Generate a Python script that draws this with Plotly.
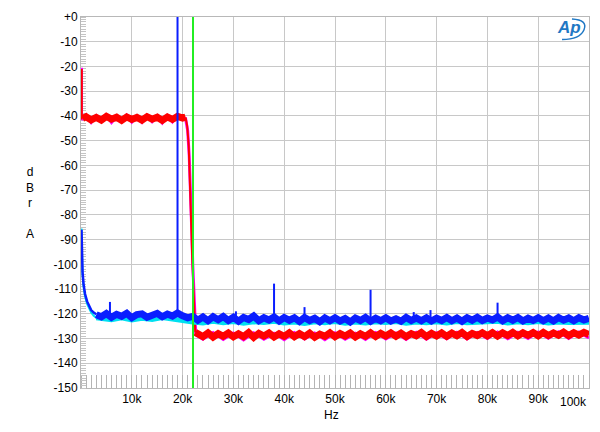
import plotly.graph_objects as go

# ---------------- data (frequency in kHz, level in dBr A) ----------------
# blue channel: low-frequency skirt, then noise floor
blue_lf_f = [0.1, 0.15, 0.3, 0.5, 0.8, 1.2, 1.6, 2.0, 2.5, 3.0]
blue_lf_db = [-86, -96, -103, -108, -112, -115, -117, -118.5, -119.5, -120.2]

blue_f = [3, 4, 5, 6, 7, 8, 9, 10, 11, 12, 13, 14, 15, 16, 17, 18, 19,
          20, 21, 22, 23, 24, 25, 26, 27, 28, 29, 30, 31, 32, 33, 34, 35, 36, 37, 38, 39,
          40, 41, 42, 43, 44, 45, 46, 47, 48, 49, 50, 51, 52, 53, 54, 55, 56, 57, 58, 59,
          60, 61, 62, 63, 64, 65, 66, 67, 68, 69, 70, 71, 72, 73, 74, 75, 76, 77, 78, 79,
          80, 81, 82, 83, 84, 85, 86, 87, 88, 89, 90, 91, 92, 93, 94, 95, 96, 97, 98, 99, 100]
blue_db = [-120.4, -121.2, -119.9, -121.4, -120.2, -121.0, -119.8, -121.6, -120.3, -120.0, -121.4,
           -120.5, -119.8, -121.2, -120.1, -120.9, -119.7,
           -120.8, -121.6, -121.0, -122.6, -121.3, -122.8, -121.2, -122.4, -121.1, -122.7,
           -121.4, -123.0, -121.5, -122.3, -120.9, -122.8, -121.6, -122.5, -121.3, -122.9,
           -121.5, -122.6, -121.6, -123.1, -121.5, -122.7, -121.8, -123.2, -121.7, -122.8,
           -121.6, -122.9, -121.9, -123.3, -121.7, -122.7, -121.5, -123.0, -121.8, -122.8,
           -121.6, -122.9, -122.0, -123.0, -121.5, -122.7, -121.7, -122.8, -121.6, -122.9,
           -121.8, -122.7, -121.5, -122.8, -121.7, -123.0, -121.6, -122.6, -121.4, -122.7,
           -121.7, -122.5, -121.3, -122.8, -121.6, -122.6, -121.5, -122.9, -121.8, -122.7,
           -121.6, -122.8, -121.7, -122.9, -121.5, -122.6, -121.7, -122.8, -121.6, -122.5, -121.8]

cyan_lf_f = [0.1, 0.15, 0.3, 0.5, 0.8, 1.2, 1.6, 2.0, 2.5, 3.0]
cyan_lf_db = [-85.5, -97, -104, -109, -113, -116, -118, -119.5, -120.8, -121.6]
cyan_f = [3, 4, 6, 8, 10, 12, 14, 16, 18, 20, 22, 24, 26, 28, 30,
          32, 34, 36, 38, 40, 42, 44, 46, 48, 50, 52, 54, 56, 58, 60, 62, 64, 66, 68, 70,
          72, 74, 76, 78, 80, 82, 84, 86, 88, 90, 92, 94, 96, 98, 100]
cyan_db = [-121.6, -122.0, -122.4, -121.6, -122.5, -121.8,
           -122.3, -121.5, -122.2, -122.5, -123.3, -123.7, -123.0, -123.6, -123.1,
           -123.8, -123.2, -123.5, -123.0, -123.7, -123.3, -123.9, -123.2, -123.6, -123.1,
           -123.8, -123.3, -123.7, -123.2, -123.5, -123.1, -123.8, -123.3, -123.6, -123.2,
           -123.7, -123.1, -123.6, -123.3, -123.5, -123.0, -123.7, -123.2, -123.6, -123.1,
           -123.7, -123.3, -123.5, -123.2, -123.4]

# red channel: passband noise, filter roll-off, stopband noise
red_start_f = [0.15, 0.15, 0.3]
red_start_db = [-21, -41, -41]
red_pass_f = [0.3, 1, 2, 3, 4, 5, 6, 7, 8, 9, 10, 11, 12, 13, 14, 15, 16, 17, 18, 19, 20, 20.6]
red_pass_db = [-41, -40.3, -41.6, -40.6, -41.7, -40.2, -41.3, -40.5, -41.8, -40.4, -41.4,
               -40.6, -41.7, -40.3, -41.3, -40.5, -41.8, -40.4, -41.4, -40.2, -40.9, -40.5]
red_roll_f = [20.6, 20.9, 21.2, 21.5, 21.7, 21.9, 22.1, 22.3, 22.5]
red_roll_db = [-40.7, -44, -52, -68, -84, -98, -110, -121, -127.5]
red_stop_f = [22.5, 23, 24, 25, 26, 27, 28, 29, 30, 31, 32, 33, 34, 35, 36, 37, 38, 39,
              40, 41, 42, 43, 44, 45, 46, 47, 48, 49, 50, 51, 52, 53, 54, 55, 56, 57, 58, 59,
              60, 61, 62, 63, 64, 65, 66, 67, 68, 69, 70, 71, 72, 73, 74, 75, 76, 77, 78, 79,
              80, 81, 82, 83, 84, 85, 86, 87, 88, 89, 90, 91, 92, 93, 94, 95, 96, 97, 98, 99, 100]
red_stop_db = [-127.5, -128.0, -129.2, -127.7, -129.4, -128.0, -129.1, -127.8, -129.3, -128.1, -129.2,
               -127.6, -129.5, -127.9, -129.0, -127.8, -129.4, -128.1,
               -129.1, -127.7, -129.3, -128.0, -129.2, -127.8, -129.5, -128.2, -129.1, -127.7,
               -129.3, -128.0, -129.0, -127.8, -129.4, -128.1, -129.1, -127.7, -129.2, -127.9,
               -129.0, -127.7, -129.1, -127.8, -129.2, -128.0, -128.9, -127.6, -129.2, -127.9,
               -129.0, -127.7, -129.1, -127.8, -128.9, -127.6, -129.2, -127.9, -128.8, -127.7,
               -128.9, -127.6, -129.0, -127.7, -128.8, -127.5, -128.9, -127.7, -128.7, -127.6,
               -128.9, -127.5, -128.8, -127.7, -128.7, -127.4, -128.8, -127.6, -128.6, -127.5, -128.4]

mag_f = [0.1, 0.1, 1, 2, 3, 4, 5, 6, 7, 8, 9, 10, 11, 12, 13, 14, 15, 16, 17, 18, 19, 20,
         20.6, 21.0, 21.3, 21.6, 21.8, 22.0, 22.2, 22.4, 22.6, 24, 26, 28, 30, 32, 34, 36,
         38, 40, 42, 44, 46, 48, 50, 52, 54, 56, 58, 60, 62, 64, 66, 68, 70, 72, 74, 76, 78,
         80, 82, 84, 86, 88, 90, 92, 94, 96, 98, 100]
mag_db = [-20.5, -41.5, -39.6, -42.6, -40.0, -42.3, -39.8, -42.7, -40.2, -42.4, -39.7,
          -42.5, -40.1, -42.6, -39.8, -42.3, -40.0, -42.8, -39.9, -42.4, -39.8, -41.5,
          -41.2, -46, -56, -70, -86, -100, -112, -123, -128.5,
          -130.3, -127.6, -130.4, -127.8, -130.6, -127.7, -130.3, -127.9, -130.5, -127.6,
          -130.2, -127.8, -130.5, -127.7, -130.3, -127.9, -130.4, -127.6, -130.2, -127.8,
          -130.4, -127.5, -130.3, -127.7, -130.1, -127.5, -130.2, -127.6, -130.0, -127.4,
          -130.1, -127.5, -130.0, -127.4, -129.9, -127.3, -130.0, -127.4, -129.8]

# discrete tones on the blue channel (frequency kHz, peak dBr A, floor dBr A)
spike_f = [5.7, 19.0, 30.5, 38.0, 44.0, 57.0, 65.5, 68.8, 82.0]
spike_top = [-115.2, 0, -119.0, -107.8, -117.3, -110.3, -119.3, -118.5, -115.5]
spike_base = [-120.5, -120.5, -122, -122, -122, -122, -122, -122, -122]

marker_f = 22.05  # green cursor frequency (kHz)

y_ticks = list(range(-150, 1, 10))
y_text = ["+0" if v == 0 else str(v) for v in y_ticks]
x_ticks = [10, 20, 30, 40, 50, 60, 70, 80, 90]
x_text = [f"{v}k" for v in x_ticks]

# ---------------- figure ----------------
BLUE = "#0a1eff"
RED = "#ff0000"
CYAN = "#00e0f0"
MAG = "#ff00ff"

fig = go.Figure()


def add_line(x, y, color, width):
    fig.add_trace(go.Scatter(x=x, y=y, mode="lines", line=dict(color=color, width=width),
                             hoverinfo="skip"))


add_line(mag_f, mag_db, MAG, 3)
add_line(red_start_f, red_start_db, RED, 2)
add_line(red_pass_f, red_pass_db, RED, 7)
add_line(red_roll_f, red_roll_db, RED, 2)
add_line(red_stop_f, red_stop_db, RED, 7)
add_line(cyan_lf_f, cyan_lf_db, CYAN, 2)
add_line(cyan_f, cyan_db, CYAN, 5)
add_line(blue_lf_f, blue_lf_db, BLUE, 2.5)
add_line(blue_f, blue_db, BLUE, 7)

sx, sy = [], []
for f, top, base in zip(spike_f, spike_top, spike_base):
    sx += [f, f, None]
    sy += [base, top, None]
add_line(sx, sy, BLUE, 2)

add_line([marker_f, marker_f], [-150, 0], "#22ee22", 2)

grid = "#c8c8c8"
fig.update_layout(
    width=600, height=432,
    margin=dict(l=81, r=11, t=10, b=44),
    paper_bgcolor="white", plot_bgcolor="white",
    showlegend=False,
    font=dict(family="Liberation Sans, Arial, sans-serif", size=12, color="black"),
    xaxis=dict(range=[0, 100], tickmode="array", tickvals=x_ticks, ticktext=x_text,
               showgrid=True, gridcolor=grid, gridwidth=1, zeroline=False,
               showline=True, mirror=True, linecolor="#b8b8b8", linewidth=1,
               ticks="", tickfont=dict(size=12), layer="below traces",
               minor=dict(tickmode="linear", tick0=0, dtick=1, ticks="inside",
                          ticklen=13, tickcolor="#b4b4b4", showgrid=False)),
    yaxis=dict(range=[-150, 0], tickmode="array", tickvals=y_ticks, ticktext=y_text,
               showgrid=True, gridcolor=grid, gridwidth=1, zeroline=False,
               showline=True, mirror=True, linecolor="#b8b8b8", linewidth=1,
               ticks="", tickfont=dict(size=12), layer="below traces",
               minor=dict(tickmode="linear", tick0=0, dtick=1, ticks="inside",
                          ticklen=5, tickcolor="#c4c4c4", showgrid=False)),
)

fig.add_annotation(text="100k", xref="x", yref="paper", x=100, y=0, xanchor="right",
                   yanchor="top", yshift=-5, showarrow=False, font=dict(size=12))
fig.add_annotation(text="Hz", xref="paper", yref="paper", x=0.494, y=-0.074,
                   xanchor="center", yanchor="middle", showarrow=False, font=dict(size=12))
fig.add_annotation(text="d<br>B<br>r<br> <br>A", xref="paper", yref="paper",
                   x=-0.1, y=0.5, xanchor="center", yanchor="middle", showarrow=False,
                   font=dict(size=12))

# Ap logo
LOGO = "#1f78c4"


def px(x):
    return (x - 81) / 508


def py(y):
    return (388 - y) / 378


fig.add_annotation(text="<b><i>Ap</i></b>", xref="paper", yref="paper",
                   x=px(569), y=py(21), xanchor="center", yanchor="middle",
                   showarrow=False, font=dict(size=17, color=LOGO))
fig.add_shape(type="path", xref="paper", yref="paper",
              path="M {:.4f},{:.4f} Q {:.4f},{:.4f} {:.4f},{:.4f} Q {:.4f},{:.4f} {:.4f},{:.4f}".format(
                  px(572), py(12), px(588), py(13), px(584), py(23),
                  px(580), py(33), px(562), py(33)),
              line=dict(color=LOGO, width=1.5))

fig.write_html("out.html", config={"displayModeBar": False, "staticPlot": True},
               post_script="document.body.style.margin='0';document.body.style.overflow='hidden';")
